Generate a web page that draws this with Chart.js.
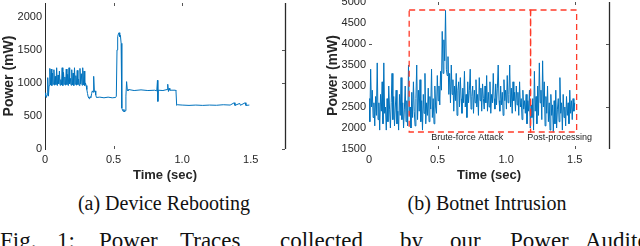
<!DOCTYPE html>
<html><head><meta charset="utf-8">
<script src="https://cdn.jsdelivr.net/npm/chart.js@4"></script>
<style>
html,body{margin:0;padding:0;background:#fff;width:640px;height:246px;overflow:hidden;position:relative}
canvas{position:absolute;top:0}
#c1{left:0}
#c2{left:320px}
.cap{position:absolute;font-family:"Liberation Serif","DejaVu Serif",serif;color:#111;line-height:1;white-space:nowrap}
.sub{top:193px;font-size:20px;width:300px;text-align:center}
.fig{top:229px;font-size:23px}
</style></head><body>
<canvas id="c1" width="320" height="190"></canvas>
<canvas id="c2" width="320" height="190"></canvas>
<div class="cap sub" style="left:14px">(a) Device Rebooting</div>
<div class="cap sub" style="left:337px">(b) Botnet Intrusion</div>
<div class="cap fig" style="left:0">Fig.</div>
<div class="cap fig" style="left:57px">1:</div>
<div class="cap fig" style="left:99px">Power</div>
<div class="cap fig" style="left:180px">Traces</div>
<div class="cap fig" style="left:280px">collected</div>
<div class="cap fig" style="left:400px">by</div>
<div class="cap fig" style="left:450px">our</div>
<div class="cap fig" style="left:510px">Power</div>
<div class="cap fig" style="left:585px">Auditor</div>
<script>
// ---------- data ----------
const rebootTimeSec = [
  0, 0.005, 0.010, 0.015, 0.020, 0.025, 0.030,
  0.035,0.040,0.045,0.050,0.055,0.060,0.065,0.070,0.075,0.080,
  0.085,0.090,0.095,0.100,0.105,0.110,0.115,0.120,0.125,0.130,
  0.135,0.140,0.145,0.150,0.155,0.160,0.165,0.170,0.175,0.180,
  0.185,0.190,0.195,0.200,0.205,0.210,0.215,0.220,0.225,0.230,
  0.235,0.240,0.245,0.250,0.255,0.260,0.265,0.270,0.275,0.280,
  0.285,0.290,0.295,0.300,
  0.305,0.310,0.315,0.320,0.325,0.330,0.335,0.340,0.345,0.350,0.355,0.360,0.365,0.370,0.375,
  0.400,0.430,0.460,0.490,0.515,
  0.520,0.525,0.530,0.535,0.540,0.545,0.550,0.555,0.560,0.565,0.570,0.575,0.580,0.585,0.590,0.595,0.600,0.605,0.610,
  0.650,0.700,0.750,0.800,0.815,0.820,0.823,0.826,0.860,0.890,0.895,0.900,0.905,0.910,0.950,0.955,0.960,0.965,
  1.000,1.050,1.100,1.150,1.200,1.250,1.300,1.350,1.380,1.385,1.420,1.425,1.460,1.465,1.490
];
const rebootPowerMw = [
  850, 800, 780, 820, 1080, 800, 960,
  1220,970,1210,960,1150,980,1200,965,1100,975,
  1230,960,1120,985,1180,965,1050,970,1230,960,
  1160,980,1090,965,1210,975,1130,960,1230,985,
  1070,965,1200,970,1150,960,1230,980,1110,965,
  1190,975,1060,960,1220,985,1140,965,1230,970,
  1180,960,1000,960,
  900,840,790,770,760,790,780,840,880,860,1100,870,880,820,780,
  785,775,785,775,780,
  800,1500,1700,1740,1760,1700,1720,1600,620,590,570,600,560,580,800,1020,900,880,900,
  885,895,885,890,880,1040,720,890,885,900,980,870,920,890,890,880,660,670,
  665,660,665,660,665,662,670,665,700,660,690,662,700,660,665
];

const botnetSamplePeriodSec = 0.006;
const botnetPowerMw = [
  2700,2150,3400,2500,2900,2250,2600,2050,2750,2300,
  3550,2200,2600,1950,2800,2400,3100,2100,3550,2350,
  2500,1950,2700,2150,3000,2450,2000,2600,3300,2200,
  2750,2050,2500,2900,2100,2400,1950,2800,2300,3200,
  2200,2600,2000,2450,3000,2150,2650,2050,3500,2300,
  2500,2000,2850,2250,3100,2400,2050,2700,3500,2200,
  2900,2400,3150,2150,2650,1950,2800,2350,3300,2100,
  2600,2300,2950,2150,2750,2450,3400,2250,2700,2100,
  3000,2500,2350,3250,2650,3000,2550,3350,2900,4300,
  3300,4100,3600,4800,3400,3250,3700,2800,3300,2600,
  3500,2800,3150,2400,3000,2650,3300,2300,2900,3100,
  2500,3200,2700,2350,2950,2600,3350,2500,2800,2250,
  3100,2600,2900,3400,2450,2750,3000,2350,2900,2600,
  3150,2500,2800,2300,3200,2650,2950,2400,3050,2700,
  2450,3000,2600,3250,2400,2850,2500,3100,2350,2800,
  2600,3300,2700,2450,3050,2550,2950,3500,2650,2400,
  3000,2550,2850,2300,3150,2650,2900,2450,3250,2600,
  2800,3500,2500,2950,2350,3100,2650,2850,2400,3000,
  2550,2850,2300,3100,2500,2700,2200,2900,2450,2650,
  2350,2800,2100,2650,2400,2900,2000,2550,2250,2700,
  1950,3350,2400,2750,2100,3000,2300,3550,2600,2900,
  2200,3600,2500,3100,2050,2750,2350,3000,2150,2600,
  1950,2800,2300,2550,1900,2650,2100,2900,2000,2450,
  2700,2150,3200,2350,2600,1950,2800,2250,2500,2050,
  2750,2300,2600,2100,2900,2350,2650,2200,2700,2400,
  2600
];

const timeTicksSec = [0, 0.5, 1.0, 1.5];
const rebootYTicks = [0, 500, 1000, 1500, 2000];
const botnetYTicks = [1500, 2000, 2500, 3000, 3500, 4000, 4500, 5000];
const phaseLabels = ['Brute-force Attack', 'Post-processing'];
const phaseStartSec = [0.293, 1.178];
const phaseEndSec = [1.178, 1.514];
const phasePowerRange = [1905, 4810];
const phaseLabelSec = [0.717, 1.39];
const phaseLabelPower = 1762;

// ---------- helpers ----------
const SANS = '"Liberation Sans", Arial, Helvetica, sans-serif';
const TXT = '#262626';

const framePlugin = {
  id: 'frame',
  afterDatasetsDraw(chart, args, o) {
    const {ctx, chartArea: a, scales: {x, y}} = chart;
    ctx.save();
    ctx.strokeStyle = '#2a2a2a';
    ctx.lineWidth = 1.3;
    ctx.beginPath();
    ctx.moveTo(a.right + 0.5, a.top); ctx.lineTo(a.right + 0.5, a.bottom);
    ctx.stroke();
    ctx.strokeStyle = '#555';
    ctx.lineWidth = 1;
    ctx.beginPath();
    (o.rightTicks || []).forEach(v => { const p = Math.round(y.getPixelForValue(v)) + 0.5; ctx.moveTo(a.right, p); ctx.lineTo(a.right - 3, p); });
    (o.leftTicks || []).forEach(v => { const p = Math.round(y.getPixelForValue(v)) + 0.5; ctx.moveTo(a.left, p); ctx.lineTo(a.left + 3, p); });
    (o.topTicks || []).forEach(v => { const p = Math.round(x.getPixelForValue(v)) + 0.5; ctx.moveTo(p, a.top); ctx.lineTo(p, a.top + 3); });
    (o.bottomTicks || []).forEach(v => { const p = Math.round(x.getPixelForValue(v)) + 0.5; ctx.moveTo(p, a.bottom); ctx.lineTo(p, a.bottom - 3); });
    ctx.stroke();
    ctx.restore();
  }
};

const phasePlugin = {
  id: 'phases',
  afterDatasetsDraw(chart) {
    const {ctx, scales: {x, y}} = chart;
    ctx.save();
    ctx.strokeStyle = '#ff3b2a';
    ctx.lineWidth = 1.3;
    ctx.setLineDash([6, 4]);
    const yTop = y.getPixelForValue(phasePowerRange[1]);
    const yBot = y.getPixelForValue(phasePowerRange[0]);
    phaseLabels.forEach((lbl, i) => {
      const x0 = x.getPixelForValue(phaseStartSec[i]);
      const x1 = x.getPixelForValue(phaseEndSec[i]);
      ctx.strokeRect(x0, yTop, x1 - x0, yBot - yTop);
    });
    ctx.setLineDash([]);
    ctx.fillStyle = '#222';
    ctx.font = '9px ' + SANS;
    ctx.textAlign = 'center';
    ctx.textBaseline = 'middle';
    phaseLabels.forEach((lbl, i) => {
      ctx.fillText(lbl, x.getPixelForValue(phaseLabelSec[i]), y.getPixelForValue(phaseLabelPower));
    });
    ctx.restore();
  }
};

function makeChart(id, pts, yMin, yMax, yTicks, axisW, titlePad, padRight, padTop, leftBorder, frameOpts, extraPlugins) {
  return new Chart(document.getElementById(id), {
    type: 'line',
    data: { datasets: [{
      data: pts,
      borderColor: '#0072BD',
      borderWidth: 1,
      pointRadius: 0,
      tension: 0,
      fill: false
    }]},
    options: {
      responsive: false,
      animation: false,
      devicePixelRatio: 1,
      layout: { padding: { left: 0, right: padRight, top: padTop, bottom: 0 } },
      plugins: { legend: { display: false }, tooltip: { enabled: false }, frame: frameOpts },
      scales: {
        x: {
          type: 'linear', min: 0, max: 1.75,
          grid: { display: false, drawTicks: false },
          border: { display: false },
          ticks: {
            padding: 4, color: TXT, font: { family: SANS, size: 11 },
            maxRotation: 0, autoSkip: false,
            callback: v => v === 0 ? '0' : v.toFixed(1)
          },
          afterBuildTicks: s => { s.ticks = timeTicksSec.map(v => ({ value: v })); },
          title: { display: true, text: 'Time (sec)', color: TXT,
                   font: { family: SANS, size: 13, weight: 'bold' }, padding: { top: 0, bottom: 7 } },
          afterFit: s => { s.height = 41; s.paddingLeft = 0; s.paddingRight = 0; }
        },
        y: {
          min: yMin, max: yMax,
          grid: { display: false, drawTicks: false },
          border: { display: leftBorder, color: '#2a2a2a', width: 1 },
          ticks: { padding: 3, color: TXT, font: { family: SANS, size: 11 }, autoSkip: false,
                   callback: v => String(v) },
          afterBuildTicks: s => { s.ticks = yTicks.map(v => ({ value: v })); },
          title: { display: true, text: 'Power (mW)', color: TXT,
                   font: { family: SANS, size: 14, weight: 'bold' }, padding: { top: titlePad, bottom: 0 } },
          afterFit: s => { s.width = axisW; s.paddingTop = 0; s.paddingBottom = 0; }
        }
      }
    },
    plugins: [framePlugin].concat(extraPlugins)
  });
}

const rebootPts = rebootTimeSec.map((t, i) => ({ x: t, y: rebootPowerMw[i] }));
const botnetPts = botnetPowerMw.map((v, i) => ({ x: i * botnetSamplePeriodSec, y: v }));

makeChart('c1', rebootPts, 0, 2210, rebootYTicks, 45, 1, 35, 3, true,
  { rightTicks: [0, 1000, 1500], topTicks: [0.5, 1.0], bottomTicks: [0.5] }, []);
makeChart('c2', botnetPts, 1500, 5000, botnetYTicks, 49, 5, 31, 2, false,
  { rightTicks: [2500, 4000], leftTicks: [4000], topTicks: [0.5, 1.5], bottomTicks: [0.5, 1.5] }, [phasePlugin]);
</script>
</body></html>
